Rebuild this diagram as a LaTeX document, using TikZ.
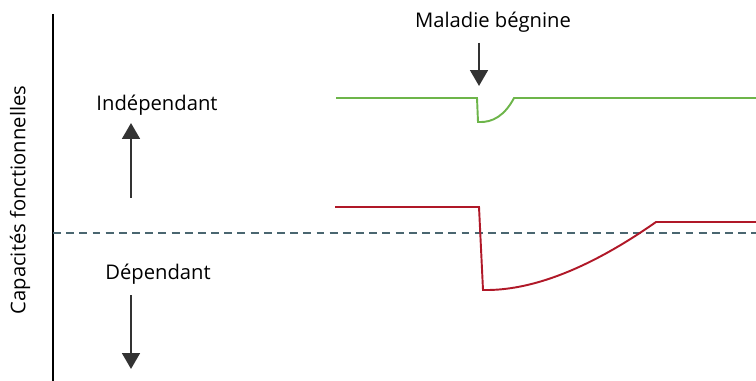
\documentclass[tikz,border=0pt]{standalone}
\usepackage{fontspec}
\setmainfont{Open Sans}
\usetikzlibrary{arrows.meta}
\definecolor{santeverte}{HTML}{6DB54A}
\definecolor{santerouge}{HTML}{B01828}
\definecolor{seuil}{HTML}{4A6670}
\definecolor{fleche}{HTML}{333333}
\tikzset{
  fleche/.style={draw=fleche,fill=fleche!90,line width=1.4pt,-{Triangle[width=10pt,length=9pt]}},
  etiquette/.style={font=\fontsize{11.5}{13}\selectfont,text=black,inner sep=0pt}
}

\begin{document}
\begin{tikzpicture}[x=0.02cm,y=-0.02cm]
        \useasboundingbox (0,0) rectangle (756,381);
        % axe vertical
        \draw[line width=1.4pt] (53,14)--(53,381);
        \node[etiquette,rotate=90] (axe) at (20,200) {Capacités fonctionnelles};
        % seuil de dependance
        \draw[seuil,line width=1.3pt,dash pattern=on 4.5pt off 3pt] (53,233)--(756,233);
        % sens des capacites
        \node[etiquette] (indep) at (157,105) {Indépendant};
        \node[etiquette] (dep) at (158,274) {Dépendant};
        \coordinate (hautbas) at (131,198);
        \coordinate (hauthaut) at (131,123);
        \coordinate (basbas) at (131,295);
        \coordinate (bashaut) at (131,369);
        \draw[fleche] (hautbas)--(hauthaut);
        \draw[fleche] (basbas)--(bashaut);
        % evenement
        \node[etiquette] (maladie) at (493,22) {Maladie bégnine};
        \coordinate (evtdebut) at (479,43);
        \coordinate (evt) at (479,86);
        \draw[fleche] (evtdebut)--(evt);
        % sujet robuste
        \draw[santeverte,line width=1.1pt] (336,98)--(477,98)--(478,122)
          .. controls (493,123) and (505,115) .. (514,98) -- (756,98);
        % sujet fragile
        \draw[santerouge,line width=1.1pt] (335,207)--(479,207)--(483,290)
          .. controls (531,291) and (589,269) .. (656,222) -- (756,222);
      \end{tikzpicture}
\end{document}
